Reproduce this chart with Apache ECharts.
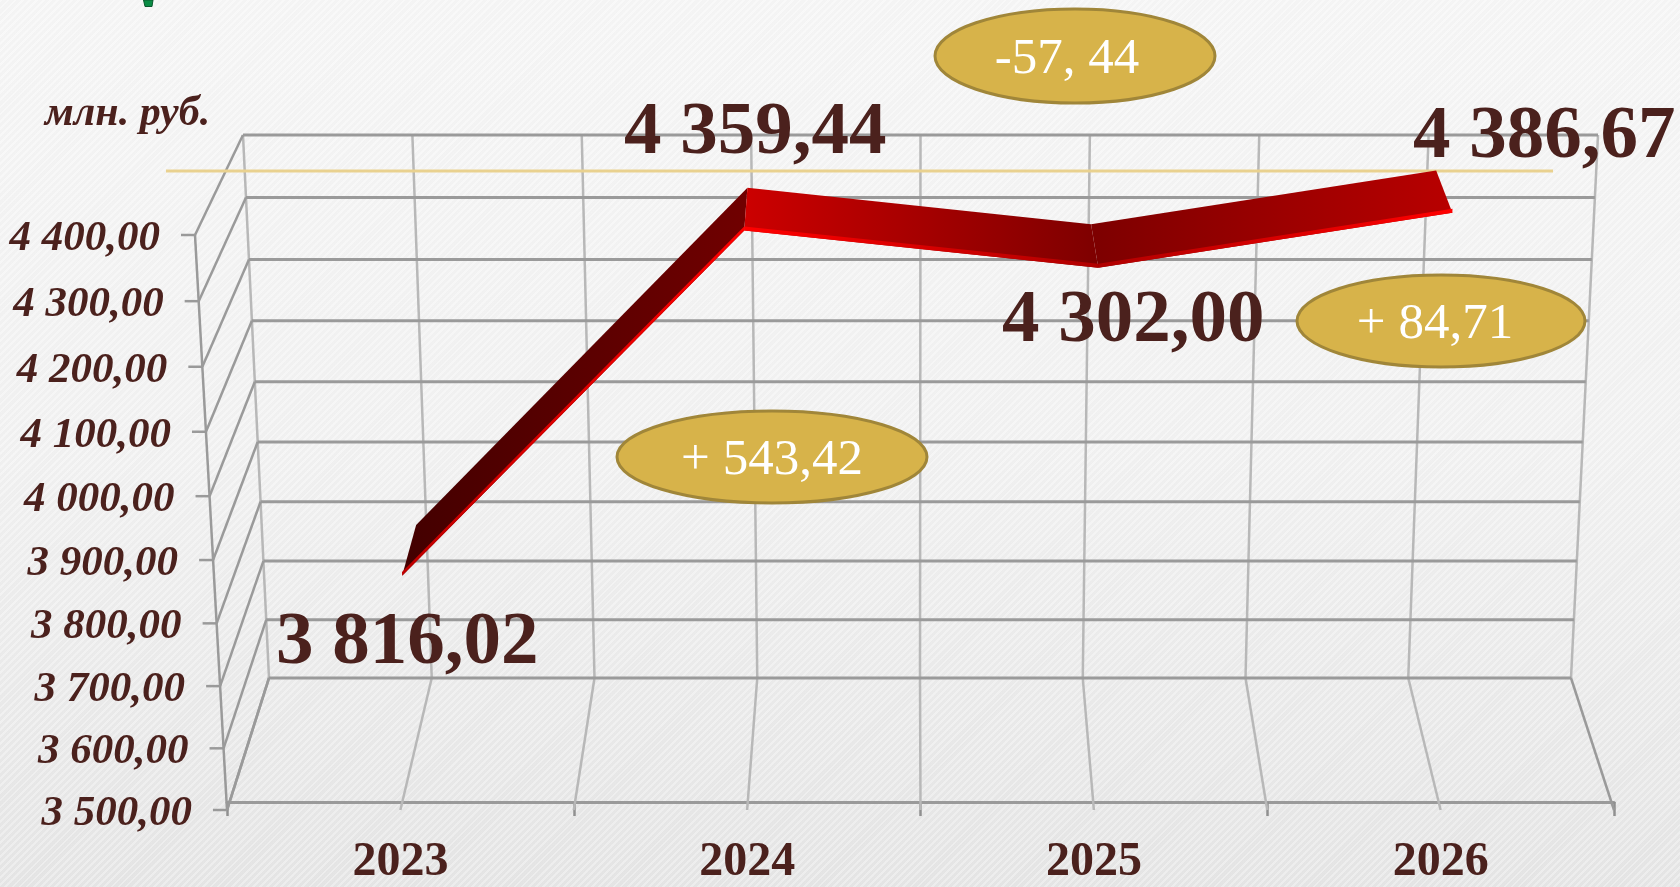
<!DOCTYPE html>
<html><head><meta charset="utf-8">
<style>html,body{margin:0;padding:0;width:1680px;height:887px;overflow:hidden;background:repeating-linear-gradient(135deg,rgba(255,255,255,.28) 0 2px,rgba(0,0,0,.006) 2px 5px),linear-gradient(180deg,#f6f6f6 0%,#f2f2f2 50%,#e6e6e6 100%)}#c{width:1680px;height:887px}</style>
<script src="https://cdn.jsdelivr.net/npm/echarts@6/dist/echarts.min.js"></script>
</head><body><div id="c"></div>
<script>
const years = ['2023','2024','2025','2026'];
const values = [3816.02,4359.44,4302.00,4386.67];
const valueLabels = ['3 816,02','4 359,44','4 302,00','4 386,67'];
const yTicks = [3500,3600,3700,3800,3900,4000,4100,4200,4300,4400];
const yTickLabels = ['3 500,00','3 600,00','3 700,00','3 800,00','3 900,00','4 000,00','4 100,00','4 200,00','4 300,00','4 400,00'];
const deltas = ['+ 543,42','-57, 44','+ 84,71'];
const unit = 'млн. руб.';

// layout
const serif = '"Liberation Serif","Times New Roman",serif';
const ink = '#4b211d';
const frontQuad = [[227,810],[1614,810],[1638,235],[195,235]];
const backQuad  = [[269,678],[1571,678],[1598,135],[243,135]];
const ribbonNear = 0.31, ribbonFar = 0.73, edgeUnits = 6;
const nearNudge = [0,3,4,4];
const labelOffsets = [[5,68],[14,-97],[39,54],[96,-75]];
const ellipses = [[772,457,155,46],[1075,56,140,47],[1441,321,144,46]];
const ellipseTextShift = [[0,4],[-8,4],[-6,4]];
const faceStops = [['#430000','#700000'],['#cc0000','#7e0000'],['#7e0000','#b80000']];
const edgeStops = [['#c00000','#ff0000'],['#ff0000','#b00000'],['#b00000','#ff0000']];

function quadMap(q){
  const [p0,p1,p2,p3]=q;
  const dx1=p1[0]-p2[0],dx2=p3[0]-p2[0],sx=p0[0]-p1[0]+p2[0]-p3[0];
  const dy1=p1[1]-p2[1],dy2=p3[1]-p2[1],sy=p0[1]-p1[1]+p2[1]-p3[1];
  const den=dx1*dy2-dx2*dy1;
  const g=(sx*dy2-dx2*sy)/den,h=(dx1*sy-sx*dy1)/den;
  const a=p1[0]-p0[0]+g*p1[0],b=p3[0]-p0[0]+h*p3[0],c=p0[0];
  const d=p1[1]-p0[1]+g*p1[1],e=p3[1]-p0[1]+h*p3[1],f=p0[1];
  return (u,v)=>{const w=g*u+h*v+1;return [(a*u+b*v+c)/w,(d*u+e*v+f)/w];};
}
const frontAt=quadMap(frontQuad), backAt=quadMap(backQuad);
function project(u,v,depth){
  const a=frontAt(u,v),b=backAt(u,v);
  return [a[0]+(b[0]-a[0])*depth,a[1]+(b[1]-a[1])*depth];
}
// from library pixel coordinates (inside the grid) to the perspective view
function view(params,api,cat,val,depth){
  const r=params.coordSys,p=api.coord([cat,val]);
  return project((p[0]-r.x)/r.width,(r.y+r.height-p[1])/r.height,depth);
}
function seg(a,b,stroke,width,z2){
  return {type:'line',z2:z2||0,shape:{x1:a[0],y1:a[1],x2:b[0],y2:b[1]},style:{stroke:stroke,lineWidth:width,fill:null}};
}

function renderWalls(params,api){
  const r=params.coordSys,kids=[];
  const steps=years.length*2, dark='#9a9a9a', light='#b8b8b8';
  for(let k=0;k<=steps;k++){
    const u=k/steps;
    kids.push(seg(backAt(u,0),backAt(u,1),light,2.5));
    kids.push(seg(frontAt(u,0),backAt(u,0),(k===0||k===steps)?dark:light,2.5));
  }
  yTicks.forEach((t,i)=>{
    const py=api.coord([0,t])[1];
    const v=(r.y+r.height-py)/r.height;
    const f=frontAt(0,v),b=backAt(0,v),b2=backAt(1,v);
    kids.push(seg(b,b2,dark,3,1));
    kids.push(seg(f,b,dark,2.5,1));
    kids.push(seg([f[0]-14,f[1]],f,dark,2.5,1));
    kids.push({type:'text',z2:3,style:{text:yTickLabels[i],x:f[0]-35,y:f[1]+4,align:'right',verticalAlign:'middle',textAlign:'right',textVerticalAlign:'middle',font:'italic bold 43px '+serif,fill:ink}});
  });
  kids.push(seg(frontAt(0,0),frontAt(0,1),dark,2.5,1));
  return {type:'group',children:kids};
}

function poly(pts,c0,c1,a,b,z2){
  return {type:'polygon',z2:z2,shape:{points:pts},style:{lineWidth:0,fill:{type:'linear',global:true,x:a[0],y:a[1],x2:b[0],y2:b[1],colorStops:[{offset:0,color:c0},{offset:1,color:c1}]}}};
}
function renderRibbon(params,api){
  const i=api.value(0);
  const kids=[];
  const anchor=view(params,api,i,values[i],ribbonNear);
  const nudge=(p,k)=>[p[0]+nearNudge[k],p[1]];
  if(i<values.length-1){
    const v0=values[i],v1=values[i+1];
    const n0=nudge(view(params,api,i,v0,ribbonNear),i),n1=nudge(view(params,api,i+1,v1,ribbonNear),i+1);
    const f0=view(params,api,i,v0,ribbonFar),f1=view(params,api,i+1,v1,ribbonFar);
    const e0=nudge(view(params,api,i,v0+edgeUnits,ribbonNear),i),e1=nudge(view(params,api,i+1,v1+edgeUnits,ribbonNear),i+1);
    kids.push(poly([n0,n1,f1,f0],faceStops[i][0],faceStops[i][1],[n0[0],0],[n1[0],0],1));
    kids.push(poly([n0,n1,e1,e0],edgeStops[i][0],edgeStops[i][1],[n0[0],0],[n1[0],0],2));
  }
  kids.push({type:'text',z2:5,style:{text:valueLabels[i],x:anchor[0]+labelOffsets[i][0],y:anchor[1]+labelOffsets[i][1],align:'center',verticalAlign:'middle',textAlign:'center',textVerticalAlign:'middle',font:'bold 75px '+serif,fill:ink}});
  return {type:'group',children:kids};
}

const graphics=[
  {type:'line',z:2,silent:true,shape:{x1:166,y1:171,x2:1553,y2:171},style:{stroke:'#e9d18f',lineWidth:3}},
  {type:'polygon',z:2,silent:true,shape:{points:[[143.5,0],[153,0],[152,6.5],[145,6.5]]},style:{fill:'#0b8c45',stroke:'#0a5a2e',lineWidth:1}},
  {type:'text',z:20,silent:true,style:{text:unit,x:45,y:114,font:'italic bold 42px '+serif,fill:ink,verticalAlign:'middle',textVerticalAlign:'middle'}}
];
ellipses.forEach((e,i)=>{
  graphics.push({type:'ellipse',z:20,silent:true,shape:{cx:e[0],cy:e[1],rx:e[2],ry:e[3]},style:{fill:'#d7b34a',stroke:'#a08639',lineWidth:3}});
  graphics.push({type:'text',z:21,silent:true,style:{text:deltas[i],x:e[0]+ellipseTextShift[i][0],y:e[1]+ellipseTextShift[i][1],align:'center',verticalAlign:'middle',textAlign:'center',textVerticalAlign:'middle',font:'51px '+serif,fill:'#ffffff'}});
});

const chart=echarts.init(document.getElementById('c'),null,{renderer:'canvas'});
chart.setOption({
  animation:false,
  backgroundColor:'transparent',
  grid:{left:227,right:66,top:235,bottom:77,containLabel:false},
  xAxis:{type:'category',data:years,boundaryGap:true,
    axisLine:{show:true,lineStyle:{color:'#9a9a9a',width:3}},
    axisTick:{show:true,alignWithLabel:false,length:14,lineStyle:{color:'#909090',width:2.5}},
    axisLabel:{show:true,interval:0,margin:37,fontFamily:serif,fontWeight:'bold',fontSize:48,color:ink},
    splitLine:{show:false}},
  yAxis:{type:'value',min:3500,max:4400,interval:100,show:false},
  graphic:graphics,
  series:[
    {type:'custom',z:1,silent:true,clip:false,renderItem:renderWalls,data:[[0,3500]]},
    {type:'custom',z:5,silent:true,clip:false,renderItem:renderRibbon,data:values.map((v,i)=>[i,v])}
  ]
});
</script></body></html>
